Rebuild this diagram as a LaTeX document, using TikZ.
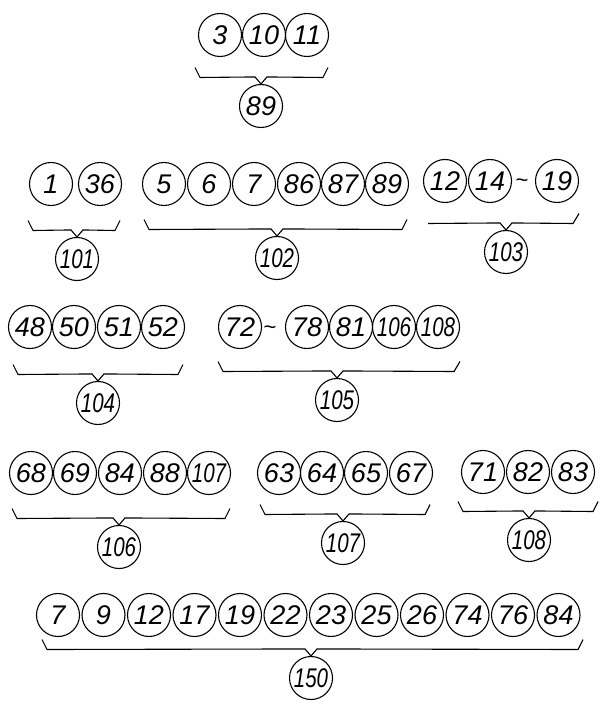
\documentclass[tikz,border=0pt]{standalone}
\usepackage{fontspec}
\usetikzlibrary{calc}
\newfontfamily\handfont{Liberation Sans}
\newcommand{\narrowed}[1]{\scalebox{0.76}[1]{#1}}

\begin{document}
\begin{tikzpicture}[x=1pt, y=-1pt,
        part/.style={circle, draw=black, line width=1.1pt, minimum size=43pt, inner sep=0pt, font=\handfont\itshape\fontsize{27}{27}\selectfont},
        total/.style={part},
        swung/.style={inner sep=0pt, font=\handfont\fontsize{22}{22}\selectfont},
        bracket/.style={line width=1.1pt, line join=miter}
    ]
        \useasboundingbox (0,0) rectangle (605,708);

        % group 89
        \node[part] (a1) at (220,35) {3};
        \node[part] (a2) at (264,35) {10};
        \node[part] (a3) at (307,35) {11};
        \node[total] (s89) at (261,106) {89};
        \coordinate (s89l) at (195,67.5);
        \coordinate (s89r) at (328,67.5);

        % group 101
        \node[part] (b1) at (51,184) {1};
        \node[part] (b2) at (100,184) {36};
        \node[total] (s101) at (77,259) {\narrowed{101}};
        \coordinate (s101l) at (28,220.5);
        \coordinate (s101r) at (120,220.5);

        % group 102
        \node[part] (c1) at (164,184) {5};
        \node[part] (c2) at (209,184) {6};
        \node[part] (c3) at (254,184) {7};
        \node[part] (c4) at (299,184) {86};
        \node[part] (c5) at (343,184) {87};
        \node[part] (c6) at (387,184) {89};
        \node[total] (s102) at (277,258) {\narrowed{102}};
        \coordinate (s102l) at (144,219.5);
        \coordinate (s102r) at (407,219.5);

        % group 103
        \node[part] (d1) at (445,181) {12};
        \node[part] (d2) at (490,181) {14};
        \node[swung] (d3) at (522,183) {\textasciitilde};
        \node[part] (d4) at (557,181) {19};
        \node[total] (s103) at (506,252) {\narrowed{103}};
        \coordinate (s103l) at (428,223.5);
        \coordinate (s103r) at (579,213.5);

        % group 104
        \node[part] (e1) at (30,327) {48};
        \node[part] (e2) at (74,327) {50};
        \node[part] (e3) at (119,327) {51};
        \node[part] (e4) at (163,327) {52};
        \node[total] (s104) at (98,403) {\narrowed{104}};
        \coordinate (s104l) at (13,364.5);
        \coordinate (s104r) at (183,364.5);

        % group 105
        \node[part] (f1) at (240,327) {72};
        \node[swung] (f2) at (270,330) {\textasciitilde};
        \node[part] (f3) at (307,327) {78};
        \node[part] (f4) at (351,327) {81};
        \node[part] (f5) at (394,327) {\narrowed{106}};
        \node[part] (f6) at (438,327) {\narrowed{108}};
        \node[total] (s105) at (337,400) {\narrowed{105}};
        \coordinate (s105l) at (218,361.5);
        \coordinate (s105r) at (460,361.5);

        % group 106
        \node[part] (g1) at (31,473) {68};
        \node[part] (g2) at (75,473) {69};
        \node[part] (g3) at (120,473) {84};
        \node[part] (g4) at (165,473) {88};
        \node[part] (g5) at (209,473) {\narrowed{107}};
        \node[total] (s106) at (119,547) {\narrowed{106}};
        \coordinate (s106l) at (12,508.5);
        \coordinate (s106r) at (230,508.5);

        % group 107
        \node[part] (h1) at (279,473) {63};
        \node[part] (h2) at (322,473) {64};
        \node[part] (h3) at (366,473) {65};
        \node[part] (h4) at (411,473) {67};
        \node[total] (s107) at (343,543) {\narrowed{107}};
        \coordinate (s107l) at (260,504.5);
        \coordinate (s107r) at (430,504.5);

        % group 108
        \node[part] (k1) at (483,472) {71};
        \node[part] (k2) at (528,472) {82};
        \node[part] (k3) at (573,472) {83};
        \node[total] (s108) at (529,540) {\narrowed{108}};
        \coordinate (s108l) at (458,501.5);
        \coordinate (s108r) at (598,501.5);

        % group 150
        \node[part] (m1) at (58,615) {7};
        \node[part] (m2) at (103.5,615) {9};
        \node[part] (m3) at (149,615) {12};
        \node[part] (m4) at (194.5,615) {17};
        \node[part] (m5) at (240,615) {19};
        \node[part] (m6) at (285.5,615) {22};
        \node[part] (m7) at (331,615) {23};
        \node[part] (m8) at (376.5,615) {25};
        \node[part] (m9) at (422,615) {26};
        \node[part] (m10) at (467.5,615) {74};
        \node[part] (m11) at (513,615) {76};
        \node[part] (m12) at (558.5,615) {84};
        \node[total] (s150) at (311,678) {\narrowed{150}};
        \coordinate (s150l) at (42,639.5);
        \coordinate (s150r) at (583,639.5);

        % brackets
        \draw[bracket] (s89l) -- ++(5,10) -- ($(s89.north)+(-6,-7)$) -- (s89.north) -- ($(s89.north)+(6,-7)$) -- ($(s89r)+(-5,10)$) -- (s89r);
        \draw[bracket] (s101l) -- ++(5,10) -- ($(s101.north)+(-6,-7)$) -- (s101.north) -- ($(s101.north)+(6,-7)$) -- ($(s101r)+(-5,10)$) -- (s101r);
        \draw[bracket] (s102l) -- ++(5,10) -- ($(s102.north)+(-6,-7)$) -- (s102.north) -- ($(s102.north)+(6,-7)$) -- ($(s102r)+(-5,10)$) -- (s102r);
        \draw[bracket] (s103l) -- ($(s103.north)+(-6,-7)$) -- (s103.north) -- ($(s103.north)+(6,-7)$) -- ($(s103r)+(-6,10)$) -- (s103r);
        \draw[bracket] (s104l) -- ++(5,10) -- ($(s104.north)+(-6,-7)$) -- (s104.north) -- ($(s104.north)+(6,-7)$) -- ($(s104r)+(-5,10)$) -- (s104r);
        \draw[bracket] (s105l) -- ++(5,10) -- ($(s105.north)+(-6,-7)$) -- (s105.north) -- ($(s105.north)+(6,-7)$) -- ($(s105r)+(-6,10)$) -- (s105r);
        \draw[bracket] (s106l) -- ++(5,10) -- ($(s106.north)+(-6,-7)$) -- (s106.north) -- ($(s106.north)+(6,-7)$) -- ($(s106r)+(-5,10)$) -- (s106r);
        \draw[bracket] (s107l) -- ++(5,10) -- ($(s107.north)+(-6,-7)$) -- (s107.north) -- ($(s107.north)+(6,-7)$) -- ($(s107r)+(-5,10)$) -- (s107r);
        \draw[bracket] (s108l) -- ++(5,10) -- ($(s108.north)+(-6,-7)$) -- (s108.north) -- ($(s108.north)+(6,-7)$) -- ($(s108r)+(-5,10)$) -- (s108r);
        \draw[bracket] (s150l) -- ++(5,10) -- ($(s150.north)+(-6,-7)$) -- (s150.north) -- ($(s150.north)+(6,-7)$) -- ($(s150r)+(-5,10)$) -- (s150r);
\end{tikzpicture}
\end{document}
